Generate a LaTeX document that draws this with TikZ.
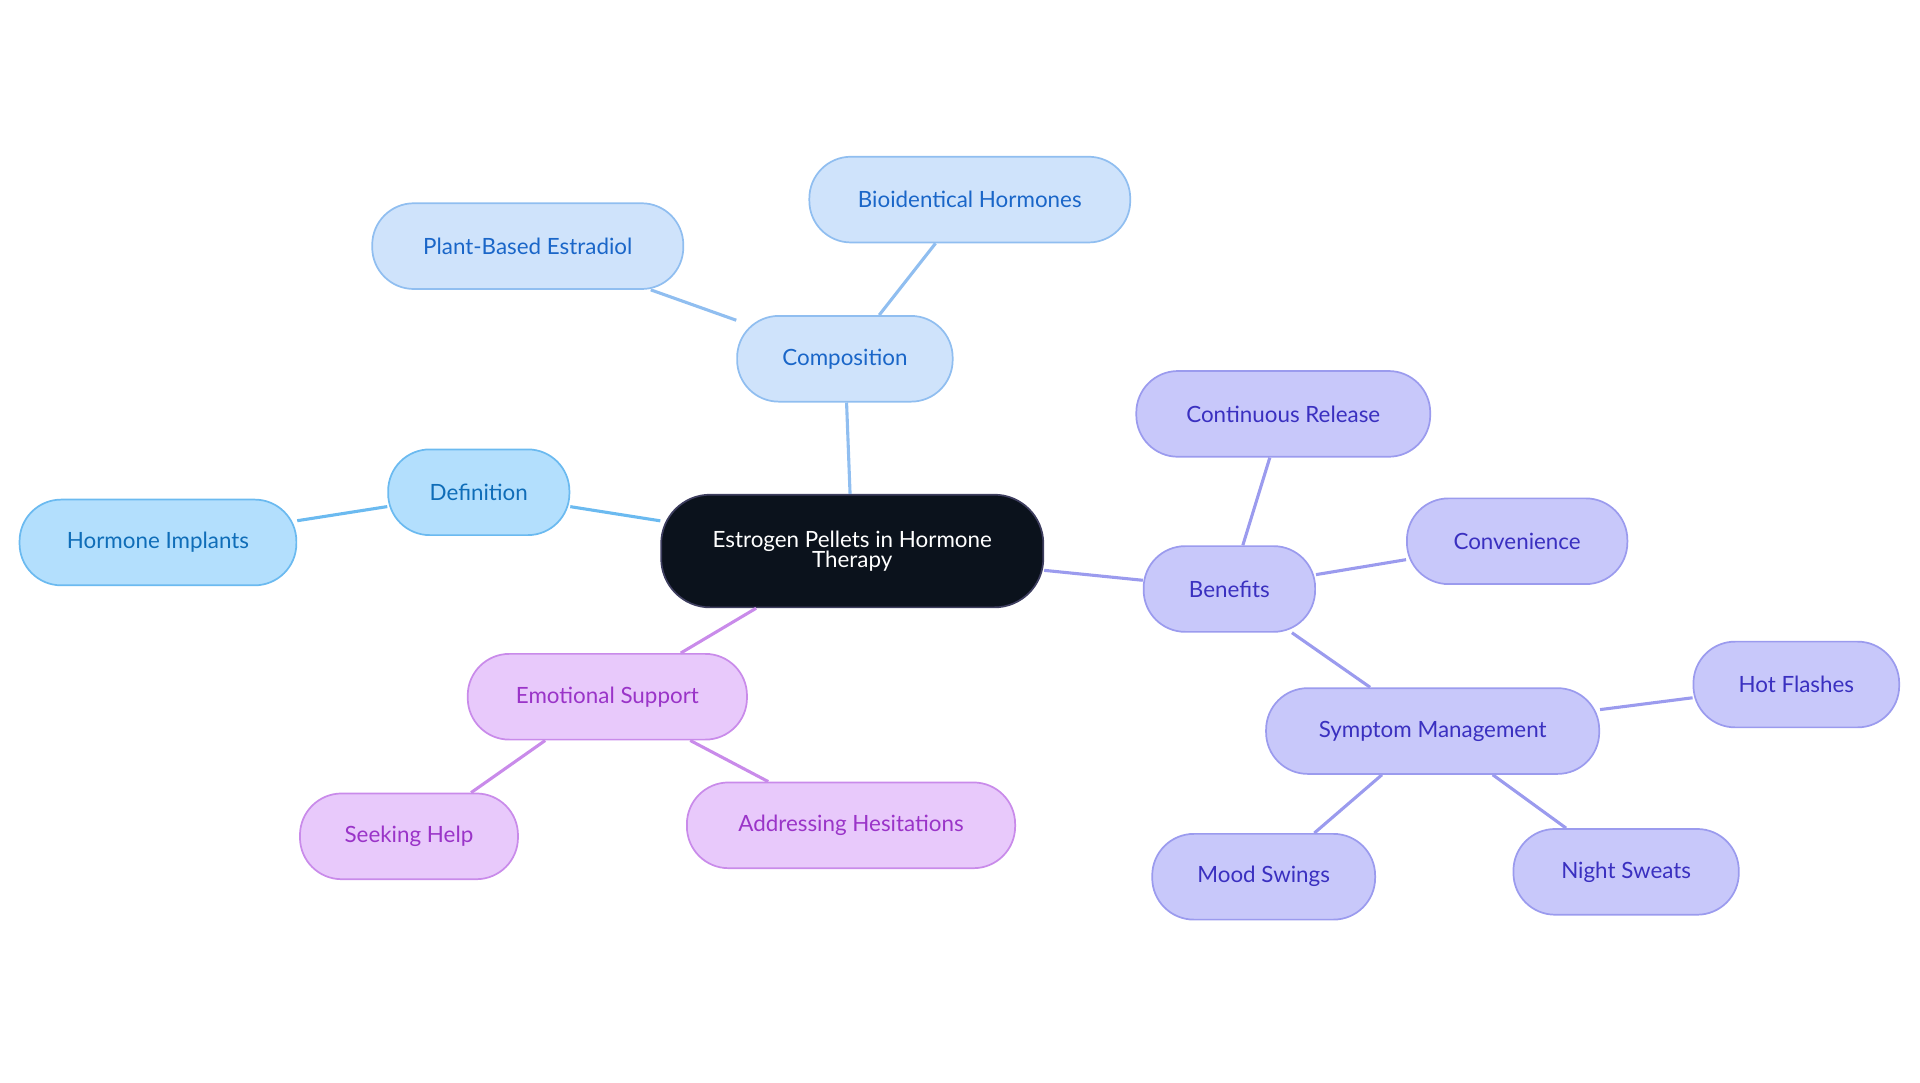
\documentclass[tikz,border=0pt]{standalone}
\usepackage{fontspec}
\setmainfont{Lato}
\definecolor{rootfill}{HTML}{0B121C}
\definecolor{compfill}{HTML}{CFE3FB}
\definecolor{compline}{HTML}{90BEF0}
\definecolor{comptext}{HTML}{1A66C8}
\definecolor{deffill}{HTML}{B3DFFD}
\definecolor{defline}{HTML}{6BBAF0}
\definecolor{deftext}{HTML}{0F6DB8}
\definecolor{emofill}{HTML}{E8C9FB}
\definecolor{emoline}{HTML}{C98BEA}
\definecolor{emotext}{HTML}{9A34C8}
\definecolor{benfill}{HTML}{C8C8FA}
\definecolor{benline}{HTML}{9B9BEE}
\definecolor{bentext}{HTML}{3A30C0}
\tikzset{
  topic/.style={rounded corners=0.85cm, minimum height=1.75cm, inner sep=0pt, line width=1pt, font=\fontsize{13}{15}\selectfont},
  comp/.style={topic, fill=compfill, draw=compline, text=comptext},
  defn/.style={topic, fill=deffill, draw=defline, text=deftext},
  emo/.style={topic, fill=emofill, draw=emoline, text=emotext},
  ben/.style={topic, fill=benfill, draw=benline, text=bentext},
  link/.style={line width=1.8pt}
}
\begin{document}
\begin{tikzpicture}[x=0.025cm, y=-0.025cm]
    \useasboundingbox (0,0) rectangle (1568,884);

    % centre
    \node[topic, fill=rootfill, draw=benline!40!black, text=white, minimum width=7.8cm, minimum height=2.3cm, rounded corners=1cm, align=center] (root) at (696,450) {Estrogen Pellets in Hormone\\[-3pt]Therapy};

    % composition
    \node[comp, minimum width=4.4cm] (comp) at (690,293) {Composition};
    \node[comp, minimum width=6.35cm] (plant) at (431,201) {Plant-Based Estradiol};
    \node[comp, minimum width=6.55cm] (bio) at (792,163) {Bioidentical Hormones};

    % definition
    \node[defn, minimum width=3.7cm] (def) at (391,402) {Definition};
    \node[defn, minimum width=5.65cm] (impl) at (129,443) {Hormone Implants};

    % emotional support
    \node[emo, minimum width=5.7cm] (emo) at (496,569) {Emotional Support};
    \node[emo, minimum width=4.45cm] (help) at (334,683) {Seeking Help};
    \node[emo, minimum width=6.7cm] (hes) at (695,674) {Addressing Hesitations};

    % benefits
    \node[ben, minimum width=3.5cm] (ben) at (1004,481) {Benefits};
    \node[ben, minimum width=6cm] (cont) at (1048,338) {Continuous Release};
    \node[ben, minimum width=4.5cm] (conv) at (1239,442) {Convenience};
    \node[ben, minimum width=6.8cm] (symp) at (1170,597) {Symptom Management};
    \node[ben, minimum width=4.2cm] (hot) at (1467,559) {Hot Flashes};
    \node[ben, minimum width=4.55cm] (mood) at (1032,716) {Mood Swings};
    \node[ben, minimum width=4.6cm] (night) at (1328,712) {Night Sweats};

    % links
    \draw[link, compline] (root) -- (comp);
    \draw[link, compline] (comp) -- (plant);
    \draw[link, compline] (comp) -- (bio);
    \draw[link, defline] (root) -- (def);
    \draw[link, defline] (def) -- (impl);
    \draw[link, emoline] (root) -- (emo);
    \draw[link, emoline] (emo) -- (help);
    \draw[link, emoline] (emo) -- (hes);
    \draw[link, benline] (root) -- (ben);
    \draw[link, benline] (ben) -- (cont);
    \draw[link, benline] (ben) -- (conv);
    \draw[link, benline] (ben) -- (symp);
    \draw[link, benline] (symp) -- (hot);
    \draw[link, benline] (symp) -- (mood);
    \draw[link, benline] (symp) -- (night);
\end{tikzpicture}
\end{document}
